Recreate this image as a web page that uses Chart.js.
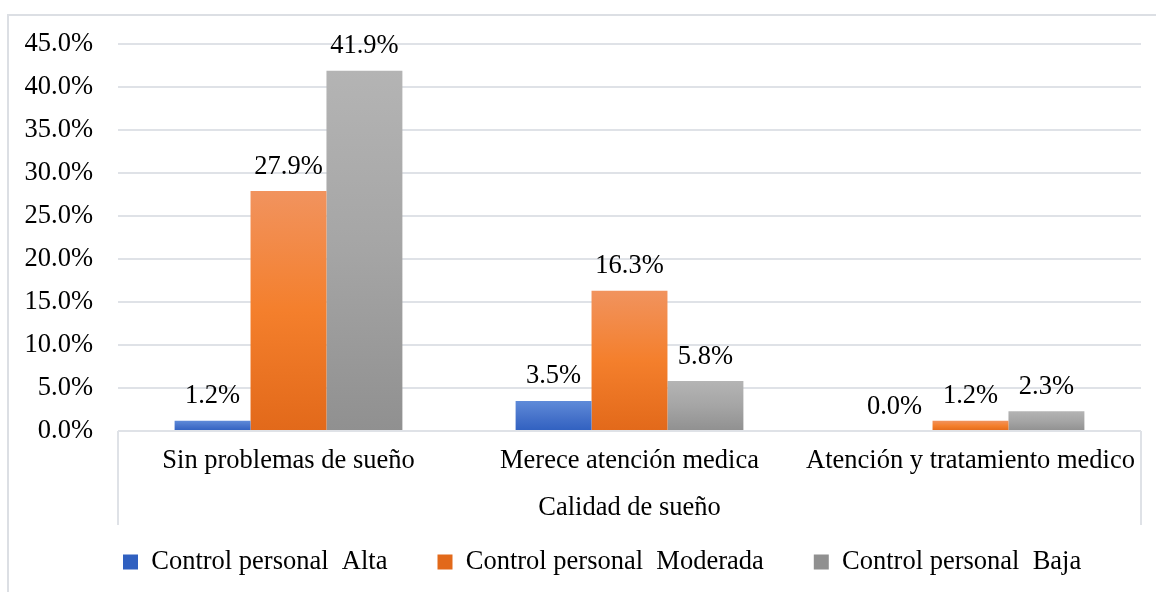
<!DOCTYPE html>
<html>
<head>
<meta charset="utf-8">
<script src="https://cdn.jsdelivr.net/npm/chart.js@4.4.1/dist/chart.umd.min.js"></script>
<style>
  html, body { margin: 0; padding: 0; background: #ffffff; }
  #wrap { position: relative; width: 1156px; height: 592px; }
</style>
</head>
<body>
<div id="wrap"><canvas id="c"></canvas></div>
<script>
// ---- data ----
const categories = ['Sin problemas de sueño', 'Merece atención medica', 'Atención y tratamiento medico'];
const seriesNames = ['Control personal  Alta', 'Control personal  Moderada', 'Control personal  Baja'];
const altaValues = [1.2, 3.5, 0.0];
const moderadaValues = [27.9, 16.3, 1.2];
const bajaValues = [41.9, 5.8, 2.3];
const axisTitle = 'Calidad de sueño';
const yMin = 0, yMax = 45, yStep = 5;

// ---- styles ----
const FONT = "'Liberation Serif', 'Times New Roman', serif";
const FS = 26.5;
const GRID = '#dfe2e7';
const blueStops = ['#5f8bd9', '#4874cb', '#3060c0'];
const orangeStops = ['#f1935e', '#f47f2c', '#e2691a'];
const grayStops = ['#b4b4b4', '#a5a5a5', '#909090'];

function barGradient(stops, base) {
  return (ctx) => {
    if (ctx.type !== 'data') return base;
    const chart = ctx.chart;
    if (!chart.chartArea) return base;
    const y = chart.scales.y;
    const top = y.getPixelForValue(ctx.raw);
    const bottom = y.getPixelForValue(0);
    if (!(bottom - top > 0.5)) return stops[stops.length - 1];
    const g = chart.ctx.createLinearGradient(0, top, 0, bottom);
    stops.forEach((c, i) => g.addColorStop(i / (stops.length - 1), c));
    return g;
  };
}

const frame = {
  id: 'frame',
  beforeDraw(chart) {
    const c = chart.ctx;
    c.save();
    c.strokeStyle = '#dcdfe4';
    c.lineWidth = 2;
    c.strokeRect(8, 15, 1400, 800);
    c.restore();
  },
  afterDraw(chart) {
    const c = chart.ctx, a = chart.chartArea;
    c.save();
    c.strokeStyle = GRID;
    c.lineWidth = 2;
    c.beginPath();
    c.moveTo(a.left, a.bottom);
    c.lineTo(a.left, a.bottom + 94);
    c.moveTo(a.right, a.bottom);
    c.lineTo(a.right, a.bottom + 94);
    c.stroke();
    c.restore();
  }
};

const valueLabels = {
  id: 'valueLabels',
  afterDatasetsDraw(chart) {
    const c = chart.ctx;
    c.save();
    c.font = FS + 'px ' + FONT;
    c.fillStyle = '#000';
    c.textAlign = 'center';
    c.textBaseline = 'alphabetic';
    chart.data.datasets.forEach((ds, i) => {
      const meta = chart.getDatasetMeta(i);
      meta.data.forEach((el, j) => {
        const v = ds.data[j];
        c.fillText(v.toFixed(1) + '%', el.x, el.y - 17.5);
      });
    });
    c.restore();
  }
};

Chart.defaults.font.family = FONT;
Chart.defaults.font.size = FS;
Chart.defaults.color = '#000';

new Chart(document.getElementById('c'), {
  type: 'bar',
  data: {
    labels: categories,
    datasets: [
      { label: seriesNames[0], data: altaValues, backgroundColor: barGradient(blueStops, '#4472c4') },
      { label: seriesNames[1], data: moderadaValues, backgroundColor: barGradient(orangeStops, '#ed7d31') },
      { label: seriesNames[2], data: bajaValues, backgroundColor: barGradient(grayStops, '#a5a5a5') }
    ]
  },
  options: {
    responsive: true,
    maintainAspectRatio: false,
    animation: false,
    events: [],
    layout: { padding: { left: 73, right: 15, top: 44, bottom: 6.75 } },
    datasets: { bar: { categoryPercentage: 0.668, barPercentage: 1.0, borderWidth: 0 } },
    scales: {
      x: {
        grid: { display: false, drawTicks: false },
        border: { display: false },
        ticks: { padding: 14, maxRotation: 0, minRotation: 0, autoSkip: false, font: { size: FS }, color: '#000' },
        title: { display: true, text: axisTitle, font: { size: FS }, color: '#000', padding: { top: 0, bottom: -25.15 } },
        afterFit(scale) { scale.height = 67.75; }
      },
      y: {
        min: yMin, max: yMax,
        grid: { color: GRID, lineWidth: 2, drawTicks: false },
        border: { display: false },
        ticks: { stepSize: yStep, mirror: true, crossAlign: 'far', padding: -93.5,
                 font: { size: FS }, color: '#000',
                 callback: (v) => Number(v).toFixed(1) + '%' },
        afterFit(scale) { scale.width = 45; }
      }
    },
    plugins: {
      tooltip: { enabled: false },
      legend: {
        position: 'bottom',
        align: 'start',
        labels: { boxWidth: 15, boxHeight: 15, padding: 50, font: { size: FS }, color: '#000' }
      }
    }
  },
  plugins: [frame, valueLabels]
});
</script>
</body>
</html>
